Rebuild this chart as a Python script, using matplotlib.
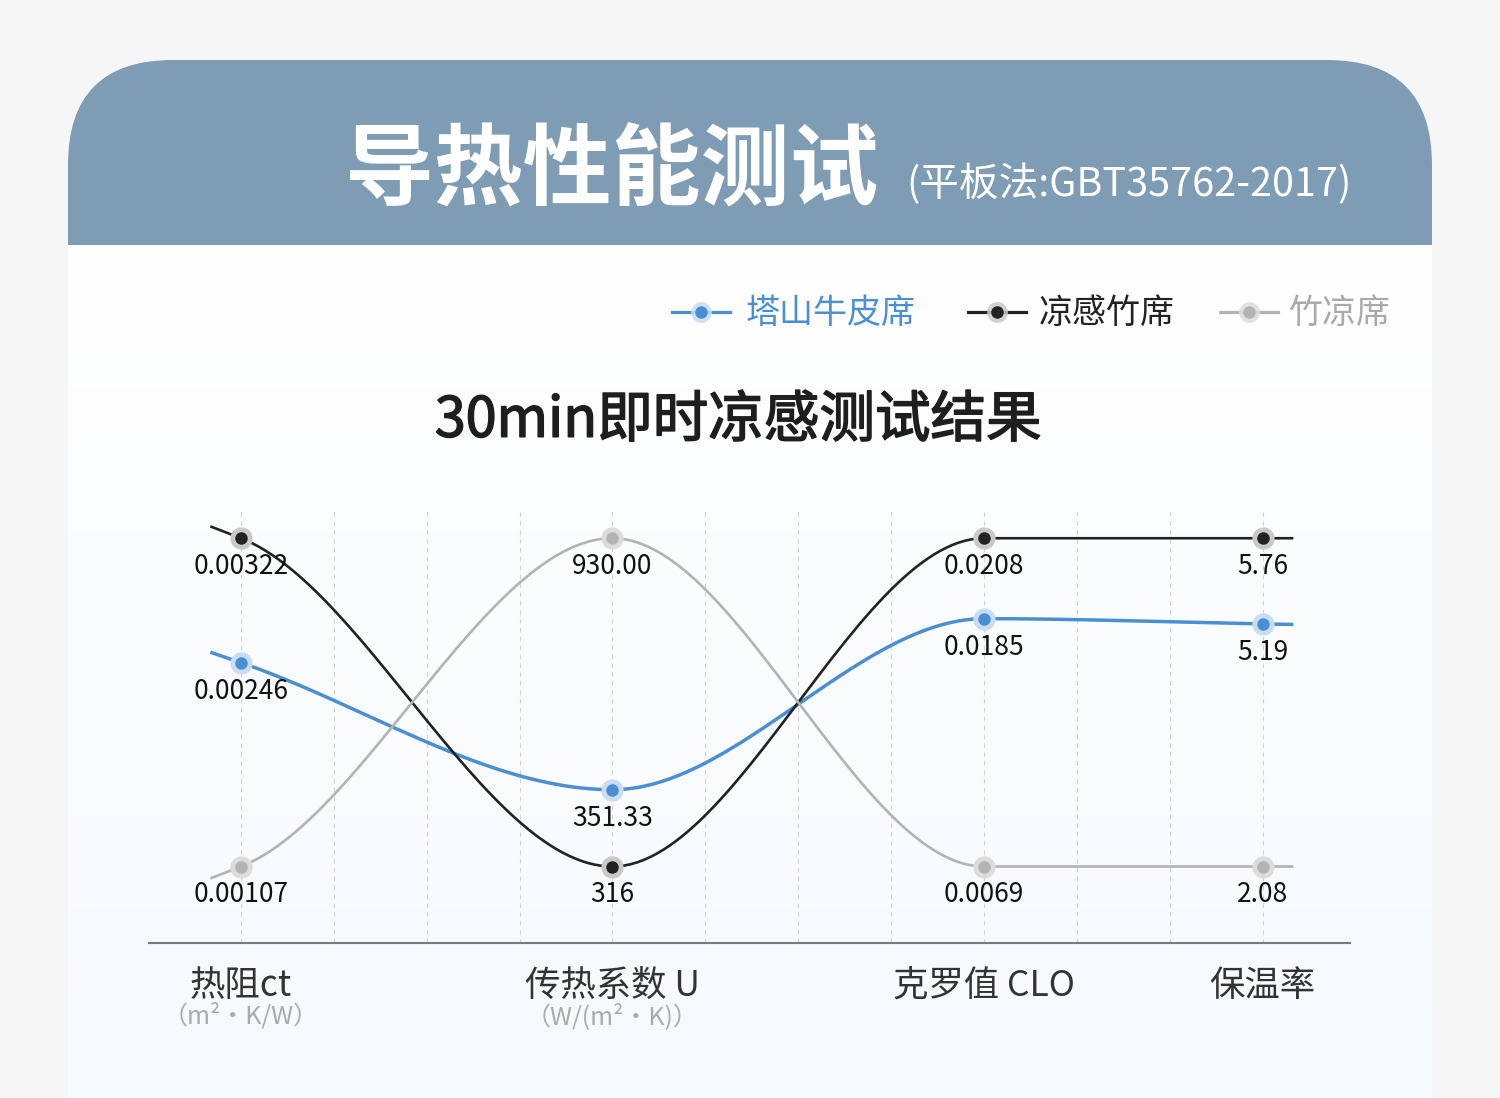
import numpy as np
import matplotlib.pyplot as plt
import matplotlib.patheffects as pe
from matplotlib.patches import FancyBboxPatch
from matplotlib.colors import LinearSegmentedColormap

plt.rcParams['font.family'] = ['Noto Sans CJK SC', 'DejaVu Sans']

# data
categories = ['热阻ct', '传热系数 U', '克罗值 CLO', '保温率']
units = ['（m²・K/W）', '（W/(m²・K)）', '', '']
series_names = ['塔山牛皮席', '凉感竹席', '竹凉席']

# relative position of each mat per test (0 = lowest, 100 = highest)
tashan_scores = [62.1, 23.4, 75.5, 73.9]
liangan_scores = [100, 0, 100, 100]
zhu_scores = [0, 100, 0, 0]

tashan_labels = ['0.00246', '351.33', '0.0185', '5.19']
liangan_labels = ['0.00322', '316', '0.0208', '5.76']
zhu_labels = ['0.00107', '930.00', '0.0069', '2.08']

# styles
line_colors = ['#4a8fd1', '#222222', '#b3b3b3']
halo_colors = ['#c9dcf1', '#c9c9c9', '#dcdcdc']
text_colors = ['#4a8fd1', '#222222', '#aaaaaa']
line_widths = [2.5, 1.9, 1.9]
cat_pos = [0, 4, 8, 11]   # categories sit on grid columns 0, 4, 8, 11


def smooth_curve(xs, ys, cap=11.0, ext=0.33, n=60):
    # monotone cubic through the points, short straight tails at both ends
    xs = np.asarray(xs, float)
    ys = np.asarray(ys, float)
    h = np.diff(xs)
    s = np.diff(ys) / h
    m = np.zeros(len(xs))
    for i in range(1, len(xs) - 1):
        if s[i - 1] * s[i] > 0:
            p = (s[i - 1] * h[i] + s[i] * h[i - 1]) / (h[i - 1] + h[i])
            m[i] = np.sign(s[i]) * min(abs(s[i - 1]), abs(s[i]), 0.5 * abs(p))
    m[0] = np.clip(s[0], -cap, cap)
    m[-1] = np.clip(s[-1], -cap, cap)

    out_x = [xs[0] - ext]
    out_y = [ys[0] - m[0] * ext]
    for i in range(len(xs) - 1):
        t = np.linspace(0, 1, n)
        h00 = 2 * t**3 - 3 * t**2 + 1
        h10 = t**3 - 2 * t**2 + t
        h01 = -2 * t**3 + 3 * t**2
        h11 = t**3 - t**2
        yy = h00 * ys[i] + h10 * h[i] * m[i] + h01 * ys[i + 1] + h11 * h[i] * m[i + 1]
        out_x.extend(xs[i] + t * h[i])
        out_y.extend(yy)
    out_x.append(xs[-1] + ext)
    out_y.append(ys[-1] + m[-1] * ext)
    return np.array(out_x), np.array(out_y)


W, H = 1500, 1098
fig = plt.figure(figsize=(15, 10.98), dpi=100)
fig.patch.set_facecolor('#f6f6f6')

# background card, pixel coordinates
bg = fig.add_axes([0, 0, 1, 1])
card = FancyBboxPatch((68, 60), 1364, 1200, boxstyle='round,pad=0,rounding_size=105',
                      fc='#7e9cb4', ec='none', zorder=0)
bg.add_patch(card)
grad = np.linspace(0, 1, 256).reshape(-1, 1)
body_cmap = LinearSegmentedColormap.from_list('body', ['#ffffff', '#f6f9fd'])
bg.imshow(grad, cmap=body_cmap, extent=[68, 1432, 1098, 245], aspect='auto', zorder=1)
bg.set_xlim(0, W)
bg.set_ylim(H, 0)
bg.axis('off')

bg.text(345, 172, '导热性能测试', fontsize=64, fontweight='bold', color='white',
        ha='left', va='center', zorder=2)
bg.text(906, 185, '(平板法:GBT35762-2017)', fontsize=28.5, color='white',
        ha='left', va='center', zorder=2)

bg.text(738, 421, '30min即时凉感测试结果', fontsize=40, color='#1e1e1e',
        ha='center', va='center', zorder=2,
        path_effects=[pe.withStroke(linewidth=1.1, foreground='#1e1e1e')])

# legend
legend_marker_x = [701, 997, 1249]
legend_text_x = [746, 1039, 1288]
for name, mx, tx, lc, hc, tc in zip(series_names, legend_marker_x, legend_text_x,
                                    line_colors, halo_colors, text_colors):
    bg.plot([mx - 29, mx + 29], [312, 312], color=lc, lw=2.3, zorder=2)
    bg.plot(mx, 312, 'o', ms=15, color=hc, mec='none', alpha=0.85, zorder=3)
    bg.plot(mx, 312, 'o', ms=9, color=lc, mec='none', zorder=4)
    bg.text(tx, 313, name, fontsize=24.5, color=tc, ha='left', va='center', zorder=4)

# chart
ax = fig.add_axes([149 / W, (H - 943) / H, (1350 - 149) / W, (943 - 510) / H])
ax.patch.set_alpha(0)
ax.set_xlim(-0.99, 11.94)
ax.set_ylim(-23.3, 108.6)
for sp in ['top', 'right', 'left']:
    ax.spines[sp].set_visible(False)
ax.spines['bottom'].set_color('#7a7a7a')
ax.spines['bottom'].set_linewidth(1.5)
ax.set_xticks([])
ax.set_yticks([])

for k in range(12):
    ax.axvline(k, color='#d2d2d2', lw=0.8, ls=(0, (4, 4)), zorder=1)

all_scores = [tashan_scores, liangan_scores, zhu_scores]
all_labels = [tashan_labels, liangan_labels, zhu_labels]
for scores, labels, lc, hc, lw in zip(all_scores, all_labels, line_colors, halo_colors, line_widths):
    xx, yy = smooth_curve(cat_pos, scores)
    ax.plot(xx, yy, color=lc, lw=lw, zorder=3, solid_capstyle='butt')
    ax.plot(cat_pos, scores, 'o', ms=16, color=hc, mec='none', zorder=4)
    ax.plot(cat_pos, scores, 'o', ms=9, color=lc, mec='none', zorder=5)
    for x, y, lab in zip(cat_pos, scores, labels):
        ax.annotate(lab, (x, y), xytext=(0, -20.5), textcoords='offset points',
                    ha='center', va='center', fontsize=19, color='#111111', zorder=6)

for x, cat, unit in zip(cat_pos, categories, units):
    ax.annotate(cat, (x, 0), xycoords=('data', 'axes fraction'), xytext=(0, -31),
                textcoords='offset points', ha='center', va='center',
                fontsize=25.5, color='#333333')
    if unit:
        ax.annotate(unit, (x, 0), xycoords=('data', 'axes fraction'), xytext=(0, -53),
                    textcoords='offset points', ha='center', va='center',
                    fontsize=18, color='#aaaaaa')

fig.savefig('out.png', dpi=100, facecolor=fig.get_facecolor())
